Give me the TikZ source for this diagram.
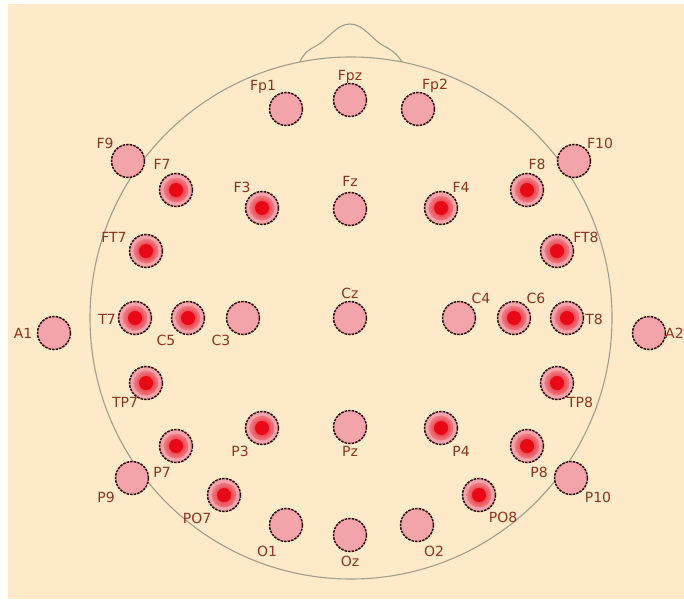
\documentclass[tikz,border=0pt]{standalone}
\usepackage{fontspec}
\setmainfont{DejaVu Sans}
\definecolor{bg}{RGB}{254,233,200}
\definecolor{epink}{RGB}{242,164,170}
\definecolor{ered}{RGB}{232,8,22}
\definecolor{edge}{RGB}{45,15,15}
\definecolor{labc}{RGB}{140,52,30}
\definecolor{headc}{RGB}{160,158,138}
\begin{document}
\begin{tikzpicture}[x=1pt,y=-1pt,
  elec/.style={circle, minimum size=33pt, inner sep=0pt, fill=epink, draw=edge, line width=1.5pt, dash pattern=on 2.6pt off 1pt},
  act/.style={elec, path picture={\shade[inner color=ered, outer color=epink] (path picture bounding box.center) circle (12.5pt); \fill[ered] (path picture bounding box.center) circle (7pt);}},
  lab/.style={text=labc, font=\fontsize{14}{16}\selectfont, inner sep=0pt},
  headline/.style={draw=headc, line width=1.1pt}]
\useasboundingbox (0,0) rectangle (684,599);
\clip (0,0) rectangle (684,599);
\fill[white] (0,0) rectangle (684,599);
\fill[bg] (8,4) rectangle (684,599);
% head
\draw[headline] (351,318) circle (261pt);
\draw[headline] (300,62) .. controls (303,54) and (308,50) .. (316,46) .. controls (328,40) and (336,24) .. (350,24) .. controls (364,24) and (372,40) .. (384,46) .. controls (392,50) and (397,54) .. (402,62);
% electrodes
\node[elec] (Fp1) at (286,109) {};
\node[elec] (Fpz) at (350,100) {};
\node[elec] (Fp2) at (418,109) {};
\node[elec] (F9) at (128,161) {};
\node[act] (F7) at (176,190) {};
\node[act] (F3) at (262,208) {};
\node[elec] (Fz) at (350,209) {};
\node[act] (F4) at (441,208) {};
\node[act] (F8) at (527,190) {};
\node[elec] (F10) at (574,161) {};
\node[act] (FT7) at (146,251) {};
\node[act] (FT8) at (557,251) {};
\node[elec] (A1) at (54,333) {};
\node[act] (T7) at (135,318) {};
\node[act] (C5) at (188,318) {};
\node[elec] (C3) at (243,318) {};
\node[elec] (Cz) at (350,318) {};
\node[elec] (C4) at (459,318) {};
\node[act] (C6) at (514,318) {};
\node[act] (T8) at (567,318) {};
\node[elec] (A2) at (649,333) {};
\node[act] (TP7) at (146,383) {};
\node[act] (TP8) at (557,383) {};
\node[act] (P7) at (176,446) {};
\node[act] (P3) at (262,428) {};
\node[elec] (Pz) at (350,427) {};
\node[act] (P4) at (441,428) {};
\node[act] (P8) at (527,446) {};
\node[elec] (P9) at (132,478) {};
\node[elec] (P10) at (571,478) {};
\node[act] (PO7) at (224,495) {};
\node[act] (PO8) at (479,495) {};
\node[elec] (O1) at (286,525) {};
\node[elec] (Oz) at (350,535) {};
\node[elec] (O2) at (417,525) {};
% labels
\node[lab] (lFp1) at (263,87) {Fp1};
\node[lab] (lFpz) at (350,77) {Fpz};
\node[lab] (lFp2) at (435,86) {Fp2};
\node[lab] (lF9) at (105,143) {F9};
\node[lab] (lF7) at (162,164) {F7};
\node[lab] (lF3) at (242,187) {F3};
\node[lab] (lFz) at (350,181) {Fz};
\node[lab] (lF4) at (461,187) {F4};
\node[lab] (lF8) at (537,164) {F8};
\node[lab] (lF10) at (600,143) {F10};
\node[lab] (lFT7) at (114,237) {FT7};
\node[lab] (lFT8) at (586,237) {FT8};
\node[lab] (lA1) at (23,333) {A1};
\node[lab] (lT7) at (107,319) {T7};
\node[lab] (lC5) at (166,340) {C5};
\node[lab] (lC3) at (221,340) {C3};
\node[lab] (lCz) at (350,293) {Cz};
\node[lab] (lC4) at (481,298) {C4};
\node[lab] (lC6) at (536,298) {C6};
\node[lab] (lT8) at (594,319) {T8};
\node[lab, anchor=west] (lA2) at (665,333) {A2};
\node[lab] (lTP7) at (125,402) {TP7};
\node[lab] (lTP8) at (580,402) {TP8};
\node[lab] (lP7) at (162,472) {P7};
\node[lab] (lP3) at (240,451) {P3};
\node[lab] (lPz) at (350,451) {Pz};
\node[lab] (lP4) at (461,451) {P4};
\node[lab] (lP8) at (539,472) {P8};
\node[lab] (lP9) at (106,497) {P9};
\node[lab] (lP10) at (598,497) {P10};
\node[lab] (lPO7) at (197,518) {PO7};
\node[lab] (lPO8) at (503,517) {PO8};
\node[lab] (lO1) at (267,551) {O1};
\node[lab] (lOz) at (350,561) {Oz};
\node[lab] (lO2) at (434,551) {O2};
\end{tikzpicture}
\end{document}
